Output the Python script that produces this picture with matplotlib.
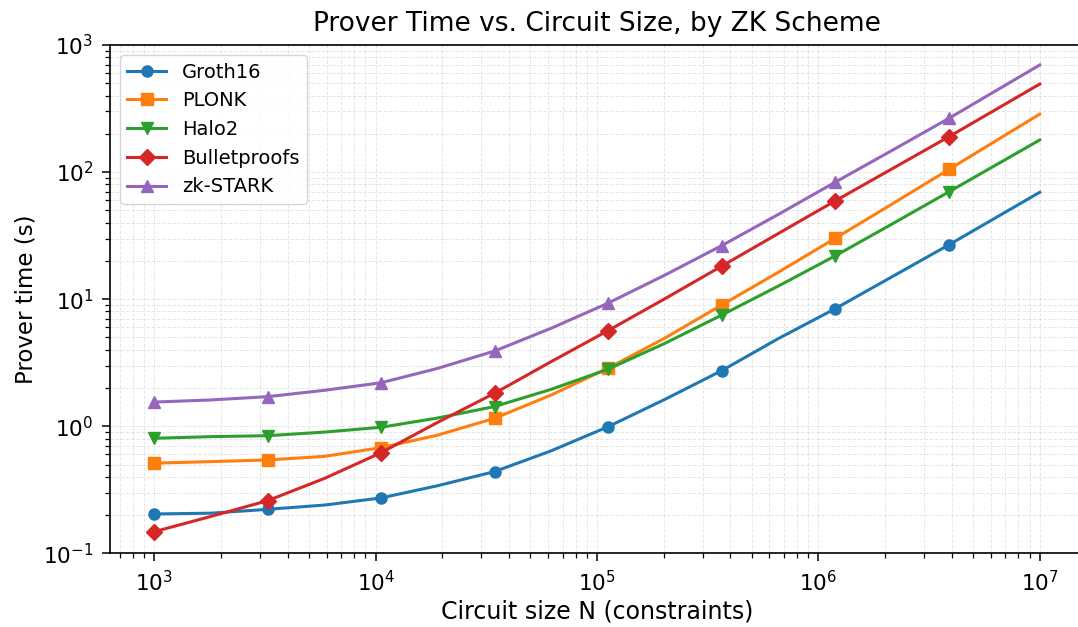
import matplotlib.pyplot as plt

# Data
circuit_size = [1.0e3, 1.8e3, 3.26e3, 5.9e3, 1.06e4, 1.9e4, 3.45e4, 6.2e4,
                1.12e5, 2.03e5, 3.66e5, 6.6e5, 1.19e6, 2.15e6, 3.89e6, 1.0e7]

groth16 = [0.204, 0.207, 0.222, 0.24, 0.273, 0.34, 0.44, 0.64,
           0.99, 1.63, 2.74, 4.9, 8.41, 15.0, 26.8, 69.4]
plonk = [0.512, 0.527, 0.543, 0.58, 0.679, 0.85, 1.156, 1.76,
         2.86, 4.95, 9.0, 16.3, 30.1, 56.0, 105.0, 286.0]
halo2 = [0.804, 0.828, 0.843, 0.9, 0.982, 1.16, 1.43, 1.95,
         2.81, 4.5, 7.5, 12.7, 21.9, 39.0, 70.0, 179.0]
bulletproofs = [0.148, 0.195, 0.26, 0.39, 0.62, 1.07, 1.82, 3.22,
                5.65, 10.1, 18.2, 32.9, 59.3, 106.0, 190.0, 493.0]
zk_stark = [1.55, 1.61, 1.71, 1.92, 2.20, 2.85, 3.91, 5.9,
            9.29, 15.5, 26.4, 46.5, 83.2, 148.0, 265.0, 697.0]

series = [
    ('Groth16', groth16, 'o', '#1f77b4'),
    ('PLONK', plonk, 's', '#ff7f0e'),
    ('Halo2', halo2, 'v', '#2ca02c'),
    ('Bulletproofs', bulletproofs, 'D', '#d62728'),
    ('zk-STARK', zk_stark, '^', '#9467bd'),
]

fig = plt.figure(figsize=(10.78, 6.27), dpi=100)
ax = fig.add_axes([0.102, 0.1175, 0.9036, 0.8107])

for name, values, marker, color in series:
    ax.plot(circuit_size, values, marker=marker, color=color, label=name,
            linewidth=2.2, markersize=8, markevery=slice(0, 15, 2))

ax.set_xscale('log')
ax.set_yscale('log')
ax.set_xlim(10 ** 2.8, 10 ** 7.2)
ax.set_ylim(0.1, 1000)

# Title and labels
ax.set_title('Prover Time vs. Circuit Size, by ZK Scheme', fontsize=19, pad=10)
ax.set_xlabel('Circuit size N (constraints)', fontsize=17, labelpad=3)
ax.set_ylabel('Prover time (s)', fontsize=16.5)
ax.tick_params(axis='both', which='major', labelsize=15.5, length=6, width=1.1, pad=6)
ax.tick_params(axis='both', which='minor', length=3.5, width=0.9)
for side in ax.spines.values():
    side.set_linewidth(1.2)

# Grid lines
ax.grid(True, which='both', linestyle='--', linewidth=0.7, alpha=0.3)

ax.legend(loc='upper left', fontsize=14)

fig.savefig('out.png', dpi=100)
